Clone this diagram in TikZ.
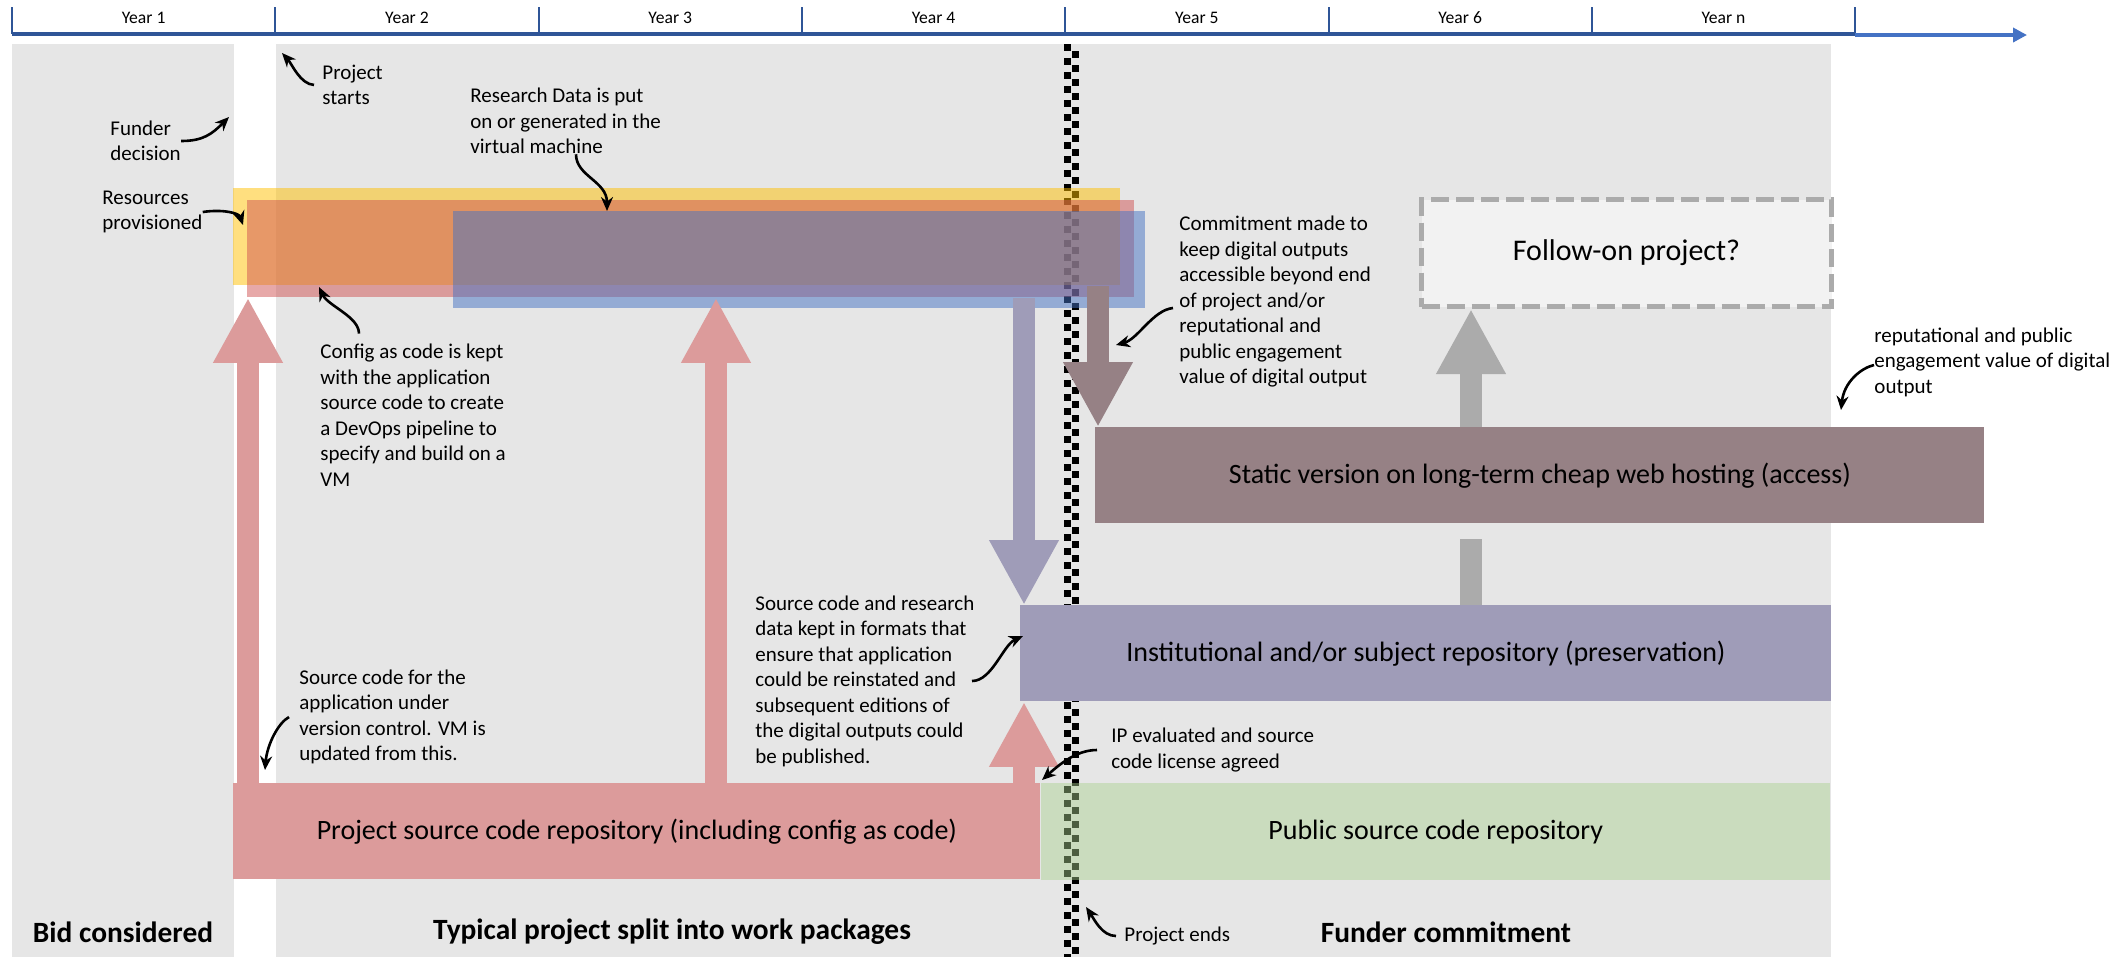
\documentclass[tikz,border=0pt]{standalone}
\usepackage{fontspec}
\setmainfont{Carlito}
\usepackage{tikz}
\usetikzlibrary{arrows.meta,positioning}

\definecolor{timeblue}{HTML}{2F5597}
\definecolor{arrowblue}{HTML}{4472C4}
\definecolor{panelgray}{HTML}{E6E6E6}
\definecolor{baryellow}{HTML}{FFC000}
\definecolor{barpink}{HTML}{D05252}
\definecolor{barblue}{HTML}{4472C4}
\definecolor{repopink}{HTML}{DC9B9B}
\definecolor{presvpurple}{HTML}{9F9CB8}
\definecolor{accessmauve}{HTML}{968185}
\definecolor{opengreen}{HTML}{A9D18E}
\definecolor{nextgray}{HTML}{ABABAB}
\definecolor{nextfill}{HTML}{F2F2F2}

\newcommand\ntfont{\fontsize{10.5pt}{12.75pt}\selectfont}
\newcommand\bxfont{\fontsize{14pt}{16pt}\selectfont}
\newcommand\ttlfont{\fontsize{14.7pt}{17pt}\selectfont\bfseries}
\newcommand\yrfont{\fontsize{8.8pt}{10pt}\selectfont}

\begin{document}
\begin{tikzpicture}[x=0.5pt,y=-0.5pt,
	sized/.style 2 args={minimum width=#1*0.5pt,minimum height=#2*0.5pt},
	bar/.style={fill opacity=0.5,inner sep=0pt,anchor=north west},
	block/.style={inner sep=0pt,anchor=north west,font=\bxfont},
	fatarrow/.style={line width=11pt,-{Triangle[length=32.5pt,width=32.5pt]}},
	note/.style={font=\ntfont,align=left,anchor=west,inner sep=0pt},
	callout/.style={line width=1.3pt,-{Stealth[length=7pt,width=6pt]}},
	title/.style={font=\ttlfont,inner sep=0pt},
	yearlabel/.style={font=\yrfont,inner sep=0pt}]
	\useasboundingbox (0,0) rectangle (2128,960);

	% time line
	\foreach \lab [count=\i from 0] in {Year 1,Year 2,Year 3,Year 4,Year 5,Year 6,Year n}
		\node[yearlabel] (yr\i) at (143.65+263.3*\i,18) {\lab};
	\foreach \i in {0,...,7}
		\draw[timeblue,line width=1pt] (12+263.3*\i,7) -- (12+263.3*\i,34);
	\draw[timeblue,line width=1.6pt] (12,34) -- (1855,34);
	\draw[arrowblue,line width=2pt,-{Triangle[length=7pt,width=7pt]}] (1855,35) -- (2027,35);

	% phases
	\fill[panelgray] (12,44) rectangle (234,957);
	\fill[panelgray] (276,44) rectangle (1831,957);
	\node[title] (bidttl)	at (123,932)	{Bid considered};
	\node[title] (projttl)	at (672,932)	{Typical project split into work packages};
	\node[title] (fundttl)	at (1446,932)	{Funder commitment};

	% project ends
	\draw[line width=3.5pt,dash pattern=on 3.5pt off 3.5pt] (1067.5,44) -- (1067.5,957);
	\draw[line width=3.5pt,dash pattern=on 3.5pt off 3.5pt,dash phase=3.5pt] (1075,44) -- (1075,957);

	% virtual machine bars
	\node[bar,fill=baryellow,sized={887}{97}]	(yellowbar)	at (233,188) {};
	\node[bar,fill=barpink,sized={887}{97}]		(pinkbar)	at (247,200) {};
	\node[bar,fill=barblue,sized={692}{97}]		(bluebar)	at (453,211) {};

	% boxes
	\node[block,fill=repopink,sized={807}{96}]		(repo)		at (233,783)	{Project source code repository (including config as code)};
	\node[block,fill=opengreen,fill opacity=0.45,text opacity=1,sized={789}{97}]
													(pubrepo)	at (repo.north east) {Public source code repository};
	\node[block,fill=presvpurple,sized={811}{96}]	(instrepo)	at (1020,605)	{Institutional and/or subject repository (preservation)};
	\node[block,fill=accessmauve,sized={889}{96}]	(static)	at (1095,427)	{Static version on long-term cheap web hosting (access)};
	\node[block,fill=nextfill,draw=nextgray,line width=2.5pt,dash pattern=on 9pt off 3.5pt,sized={410}{107},font=\fontsize{15pt}{17pt}\selectfont]
													(followon)	at (1419,197)	{Follow-on project?};

	% block arrows
	\draw[fatarrow,repopink]	(repo.north -| 248,0)		-- (pinkbar.south -| 248,0);
	\draw[fatarrow,repopink]	(repo.north -| 716,0)		-- (pinkbar.south -| 716,0);
	\draw[fatarrow,repopink]	(repo.north -| 1024,0)		-- (instrepo.south -| 1024,0);
	\draw[fatarrow,presvpurple]	(pinkbar.south -| 1024,0)	-- (instrepo.north -| 1024,0);
	\draw[fatarrow,accessmauve]	(yellowbar.south -| 1098,0)	-- (static.north -| 1098,0);
	\draw[fatarrow,nextgray]	(static.north -| 1471,0)	-- (followon.south -| 1471,0);
	\coordinate (stub) at (1471,539);
	\draw[line width=11pt,nextgray] (instrepo.north -| stub) -- (stub);

	% notes
	\node[note] (decision)		at (110,141)	{Funder\\decision};
	\node[note] (starts)		at (322,85)		{Project\\starts};
	\node[note] (putdata)		at (470,121)	{Research Data is put\\on or generated in the\\virtual machine};
	\node[note] (provisioned)	at (102,212)	{Resources\\provisioned};
	\node[note] (configcode)	at (320,415)	{Config as code is kept\\with the application\\source code to create\\a DevOps pipeline to\\specify and build on a\\VM};
	\node[note] (vcsnote)		at (299,717)	{Source code for the\\application under\\version control. VM is\\updated from this.};
	\node[note] (formats)		at (755,681)	{Source code and research\\data kept in formats that\\ensure that application\\could be reinstated and\\subsequent editions of\\the digital outputs could\\be published.};
	\node[note] (ipnote)		at (1111,750)	{IP evaluated and source\\code license agreed};
	\node[note] (ends)			at (1124,936)	{Project ends};
	\node[note] (keepnote)		at (1179,302)	{Commitment made to\\keep digital outputs\\accessible beyond end\\of project and/or\\reputational and\\public engagement\\value of digital output};
	\node[note] (reputnote)		at (1874,362)	{reputational and public\\engagement value of digital\\output};

	\coordinate (decisiontip)		at (229,117);
	\coordinate (startstip)			at (282,53);
	\coordinate (provisionedtip)	at (243,225);
	\coordinate (configtip)			at (319,287);
	\coordinate (vcstip)			at (265,770);
	\coordinate (formatstip)		at (1023,636);
	\coordinate (iptip)				at (1042,780);
	\coordinate (endstip)			at (1086,907);
	\coordinate (keeptip)			at (1116,345);
	\coordinate (reputtip)			at (1841,410);

	\draw[callout] (decision.east) .. controls +(22,0) and +(-17,17) .. (decisiontip);
	\draw[callout] ([xshift=-4pt]starts.west) .. controls +(-14,-1) and +(10,11) .. (startstip);
	\draw[callout] ([xshift=53pt]putdata.south west) .. controls +(0,22) and +(0,-30) .. (bluebar.north -| 607,0);
	\draw[callout] (provisioned.east) .. controls +(20,-3) and +(-4,-12) .. (provisionedtip);
	\draw[callout] ([xshift=19.5pt,yshift=5pt]configcode.north west) .. controls +(0,-17) and +(9,19) .. (configtip);
	\draw[callout] ([xshift=-5pt]vcsnote.west) .. controls +(-11,6) and +(2,-25) .. (vcstip);
	\draw[callout] ([xshift=108.5pt]formats.west) .. controls +(20,0) and +(-20,9) .. (formatstip);
	\draw[callout] ([xshift=-7pt]ipnote.west) .. controls +(-19,0) and +(20,-18) .. (iptip);
	\draw[callout] ([xshift=-4pt]ends.west) .. controls +(-14,0) and +(8,12) .. (endstip);
	\draw[callout] ([xshift=-3pt,yshift=-3pt]keepnote.west) .. controls +(-20,2) and +(22,-6) .. (keeptip);
	\draw[callout] ([yshift=-1.5pt]reputnote.west) .. controls +(-13,3) and +(3,-28) .. (reputtip);
\end{tikzpicture}
\end{document}
